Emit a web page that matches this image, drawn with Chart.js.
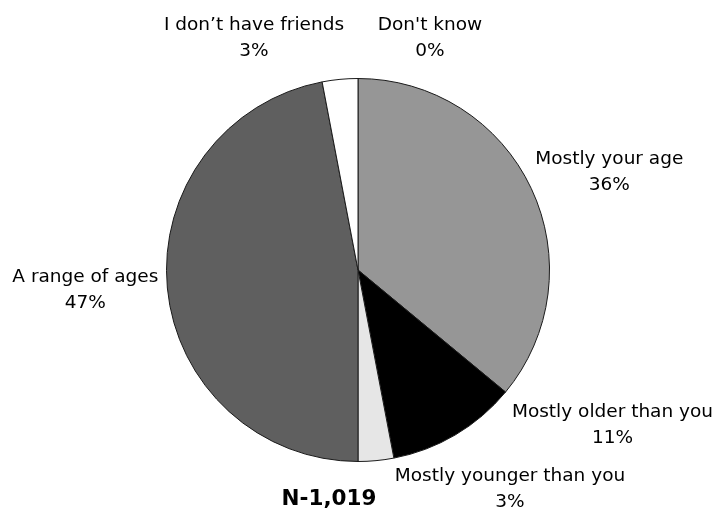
<!DOCTYPE html>
<html>
<head>
<meta charset="utf-8">
<script src="https://cdn.jsdelivr.net/npm/chart.js@4/dist/chart.umd.min.js"></script>
<style>
  html, body { margin: 0; padding: 0; background: #fff; }
  #wrap { position: relative; width: 715px; height: 512px; }
</style>
</head>
<body>
<div id="wrap"><canvas id="pieCanvas" width="715" height="512"></canvas></div>
<script>
// survey answers, clockwise from 12 o'clock
const categories = ['Mostly your age', 'Mostly older than you', 'Mostly younger than you',
                    'A range of ages', 'I don\u2019t have friends', 'Don\'t know'];
const shares = [36, 11, 3, 47, 3, 0];
const sampleNote = 'N-1,019';

const sliceColors = ['#969696', '#000000', '#e6e6e6', '#5f5f5f', '#ffffff', '#c0c0c0'];
// label block centre, relative to where the slice's mid angle meets the rim
const labelOffsets = [[78, -16], [157, -10], [134, 29], [-82, 2], [-86, -41], [72, -40]];

const FONT = '"DejaVu Sans", Verdana, sans-serif';

const outsideLabels = {
  id: 'outsideLabels',
  afterDraw(chart) {
    const ctx = chart.ctx;
    const meta = chart.getDatasetMeta(0);
    ctx.save();
    ctx.fillStyle = '#000';
    ctx.font = '18.5px ' + FONT;
    ctx.textAlign = 'center';
    ctx.textBaseline = 'middle';
    meta.data.forEach((arc, i) => {
      const p = arc.getProps(['x', 'y', 'startAngle', 'endAngle', 'outerRadius'], true);
      const mid = (p.startAngle + p.endAngle) / 2;
      const ax = p.x + Math.cos(mid) * p.outerRadius;
      const ay = p.y + Math.sin(mid) * p.outerRadius;
      const cx = ax + labelOffsets[i][0];
      const cy = ay + labelOffsets[i][1];
      ctx.fillText(categories[i], cx, cy - 13);
      ctx.fillText(shares[i] + '%', cx, cy + 13);
    });
    // sample size under the pie
    const area = chart.chartArea;
    ctx.font = 'bold 21.5px ' + FONT;
    ctx.fillText(sampleNote, (area.left + area.right) / 2 - 29, area.bottom + 37);
    ctx.restore();
  }
};

new Chart(document.getElementById('pieCanvas').getContext('2d'), {
  type: 'pie',
  data: {
    labels: categories,
    datasets: [{
      data: shares,
      backgroundColor: sliceColors,
      borderColor: '#1a1a1a',
      borderWidth: 1
    }]
  },
  options: {
    responsive: false,
    animation: false,
    layout: { padding: { left: 166, right: 165, top: 78, bottom: 50 } },
    plugins: {
      legend: { display: false },
      tooltip: { enabled: false }
    }
  },
  plugins: [outsideLabels]
});
</script>
</body>
</html>
